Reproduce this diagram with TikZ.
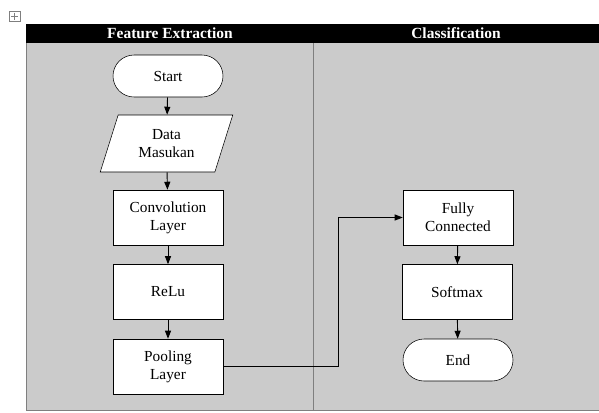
\documentclass[tikz,border=0pt]{standalone}
\usepackage{fontspec}
\setmainfont{Liberation Serif}
\usepackage{xcolor}
\usepackage{tikz}
\usetikzlibrary{arrows.meta,shapes.geometric}

\definecolor{lanegray}{HTML}{CBCBCB}
\definecolor{rulegray}{HTML}{7F7F7F}

\tikzset{
  terminal/.style={draw, fill=white, rounded corners=15.75pt, minimum width=82.5pt, minimum height=31.5pt, align=center},
  process/.style={draw, fill=white, minimum width=82.5pt, minimum height=41.25pt, align=center},
  inout/.style={draw, fill=white, trapezium, trapezium left angle=72, trapezium right angle=108,
    trapezium stretches=true, minimum width=99.75pt, minimum height=42.75pt, align=center},
  flow/.style={-{Triangle[length=6pt,width=4.5pt]}, line width=0.7pt},
  lanetitle/.style={text=white, font=\fontsize{11.6}{13}\selectfont\bfseries}
}

\begin{document}
\begin{tikzpicture}[x=0.75pt, y=-0.75pt, font=\fontsize{11.5}{13.5}\selectfont]
  \useasboundingbox (0,0) rectangle (599,412);
  % table handle
  \draw[rulegray, line width=0.4pt] (9,11) rectangle (20,21);
  \draw[rulegray, line width=0.4pt] (14.5,12.5) -- (14.5,19.5) (11,16) -- (18,16);
  % lanes
  \fill[lanegray] (26,43) rectangle (599,410);
  \fill[black] (26,24) rectangle (599,43);
  \draw[rulegray] (26,43) -- (26,410) -- (599,410);
  \draw[rulegray] (313,43) -- (313,410);
  \node[lanetitle] (fe) at (170,33.5) {Feature Extraction};
  \node[lanetitle] (cl) at (456,33.5) {Classification};
  % feature extraction
  \node[terminal] (start) at (168,76) {Start};
  \node[inout] (data) at (166.5,143.5) {Data\\Masukan};
  \node[process] (conv) at (168,217.5) {Convolution\\Layer};
  \node[process] (relu) at (168,292) {ReLu};
  \node[process] (pool) at (168,366.5) {Pooling\\Layer};
  % classification
  \node[process] (fc) at (458,217.5) {Fully\\Connected};
  \node[process] (soft) at (457,292) {Softmax};
  \node[terminal] (end) at (458,360) {End};
  \coordinate (bend) at (338,300);
  \draw[flow] (start) -- (data);
  \draw[flow] (data) -- (conv);
  \draw[flow] (conv) -- (relu);
  \draw[flow] (relu) -- (pool);
  \draw[flow] (pool.east) -- (pool.east -| bend) |- (fc.west);
  \draw[flow] (fc) -- (soft);
  \draw[flow] (soft) -- (end);
\end{tikzpicture}
\end{document}
